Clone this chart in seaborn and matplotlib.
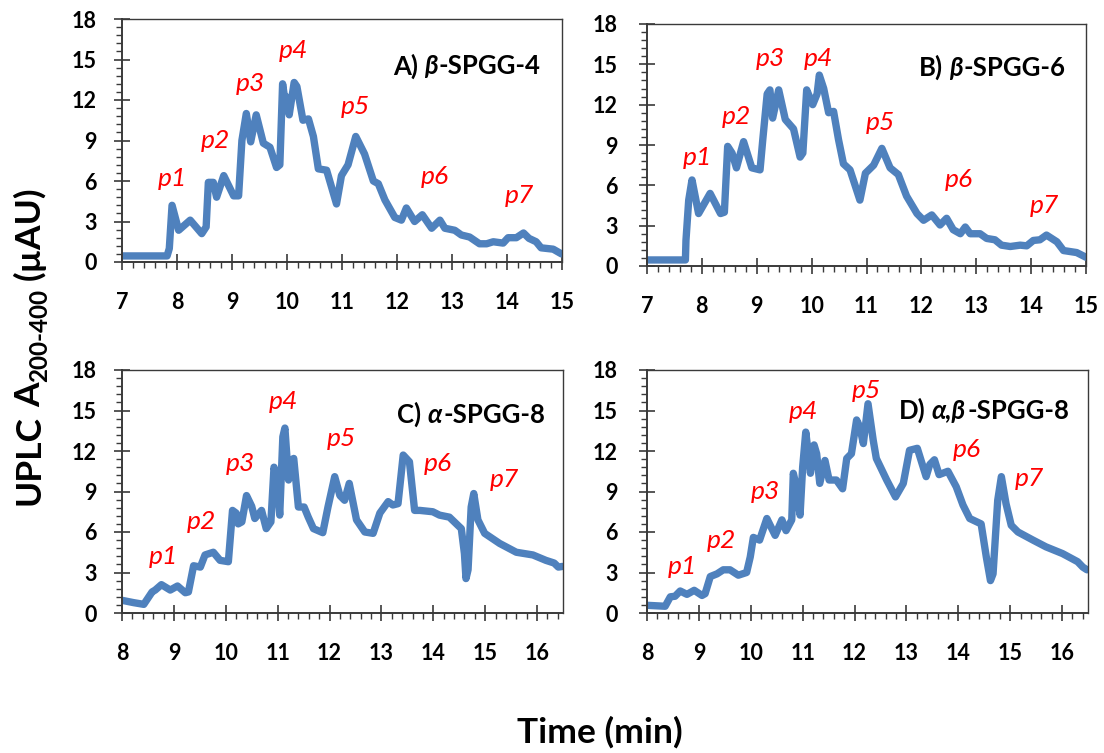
import numpy as np
import pandas as pd
import matplotlib
matplotlib.use("Agg")
import matplotlib.pyplot as plt
from matplotlib.ticker import MultipleLocator
import seaborn as sns

# ---------------- data ----------------
time_A = [7.0, 7.82, 7.86, 7.91, 8.03, 8.24, 8.45, 8.53, 8.57, 8.66, 8.72, 8.85,
          9.03, 9.12, 9.18, 9.26, 9.34, 9.44, 9.57, 9.69, 9.81, 9.87, 9.92, 9.98,
          10.01, 10.04, 10.13, 10.18, 10.29, 10.39, 10.48, 10.57, 10.72, 10.90,
          10.99, 11.11, 11.25, 11.41, 11.57, 11.66, 11.78, 11.96, 12.08, 12.17,
          12.32, 12.46, 12.63, 12.78, 12.87, 13.05, 13.17, 13.32, 13.50, 13.63,
          13.75, 13.93, 14.02, 14.17, 14.30, 14.40, 14.53, 14.62, 14.84, 14.99]
abs_A = [0.45, 0.45, 1.0, 4.2, 2.35, 3.1, 2.1, 2.6, 5.9, 5.9, 4.8, 6.4,
         4.9, 4.9, 9.0, 11.0, 8.9, 10.9, 8.8, 8.5, 7.0, 7.2, 13.2, 11.5,
         12.2, 10.9, 13.3, 13.0, 10.5, 10.6, 9.3, 6.9, 6.8, 4.3,
         6.4, 7.2, 9.3, 8.0, 6.0, 5.8, 4.6, 3.3, 3.1, 4.0,
         3.0, 3.5, 2.5, 3.1, 2.5, 2.35, 2.0, 1.85, 1.35, 1.35,
         1.5, 1.4, 1.8, 1.8, 2.15, 1.75, 1.5, 1.05, 0.95, 0.6]

time_B = [7.0, 7.70, 7.71, 7.76, 7.82, 7.94, 8.15, 8.34, 8.41, 8.47, 8.55, 8.63,
          8.76, 8.91, 9.06, 9.11, 9.19, 9.24, 9.29, 9.40, 9.52, 9.67, 9.79, 9.84,
          9.91, 10.02, 10.10, 10.14, 10.22, 10.31, 10.40, 10.49, 10.58, 10.70,
          10.88, 10.98, 11.13, 11.28, 11.43, 11.58, 11.73, 11.92, 12.04, 12.19,
          12.34, 12.46, 12.58, 12.71, 12.80, 12.89, 13.07, 13.19, 13.34, 13.46,
          13.62, 13.80, 13.92, 14.04, 14.16, 14.28, 14.47, 14.59, 14.83, 15.0]
abs_B = [0.45, 0.45, 1.9, 4.9, 6.4, 3.9, 5.4, 3.9, 4.0, 8.9, 8.4, 7.3,
         9.25, 7.3, 7.15, 9.4, 12.8, 13.1, 11.0, 13.1, 10.9, 10.2, 8.1, 8.4,
         13.1, 12.0, 12.8, 14.2, 13.2, 11.4, 11.5, 9.4, 7.6, 7.15,
         4.9, 6.9, 7.5, 8.75, 7.3, 6.8, 5.2, 3.9, 3.4, 3.8,
         3.05, 3.55, 2.7, 2.4, 2.9, 2.4, 2.4, 2.05, 1.95, 1.55,
         1.45, 1.55, 1.5, 1.9, 1.95, 2.3, 1.8, 1.15, 1.0, 0.65]

time_C = [8.0, 8.22, 8.42, 8.58, 8.64, 8.76, 8.93, 9.07, 9.22, 9.28, 9.38, 9.51,
          9.60, 9.76, 9.89, 10.05, 10.13, 10.20, 10.24, 10.31, 10.40, 10.50, 10.56,
          10.69, 10.78, 10.87, 10.93, 10.99, 11.04, 11.10, 11.14, 11.21, 11.25,
          11.31, 11.40, 11.51, 11.59, 11.69, 11.87, 11.97, 12.10, 12.20, 12.29,
          12.38, 12.52, 12.68, 12.84, 12.97, 13.13, 13.22, 13.32, 13.42, 13.54,
          13.64, 13.74, 13.99, 14.12, 14.31, 14.54, 14.60, 14.63, 14.67, 14.73,
          14.78, 14.86, 14.99, 15.28, 15.60, 15.92, 16.17, 16.33, 16.41, 16.49]
abs_C = [0.94, 0.77, 0.64, 1.56, 1.7, 2.1, 1.7, 2.0, 1.5, 1.56, 3.5, 3.4,
         4.3, 4.5, 3.9, 3.8, 7.6, 7.4, 6.6, 6.75, 8.7, 7.9, 7.0,
         7.6, 6.25, 6.75, 10.8, 9.85, 7.25, 13.05, 13.7, 9.85, 11.3,
         11.45, 7.85, 7.85, 7.1, 6.25, 5.95, 7.85, 10.1, 8.7, 8.35,
         9.6, 6.9, 6.0, 5.9, 7.4, 8.25, 8.0, 8.1, 11.7, 11.2,
         7.6, 7.6, 7.5, 7.25, 7.1, 6.25, 4.4, 2.55, 3.2, 7.85,
         8.85, 6.9, 5.9, 5.15, 4.5, 4.3, 3.9, 3.7, 3.4, 3.45]

time_D = [8.0, 8.35, 8.45, 8.54, 8.64, 8.77, 8.91, 9.06, 9.12, 9.22, 9.35, 9.47,
          9.60, 9.76, 9.92, 9.99, 10.05, 10.17, 10.31, 10.47, 10.60, 10.68, 10.79,
          10.82, 10.88, 10.95, 11.00, 11.06, 11.11, 11.15, 11.22, 11.27, 11.33,
          11.43, 11.51, 11.65, 11.77, 11.85, 11.94, 12.04, 12.10, 12.17, 12.26,
          12.36, 12.42, 12.62, 12.79, 12.94, 13.06, 13.21, 13.38, 13.45, 13.54,
          13.63, 13.80, 13.96, 14.09, 14.22, 14.44, 14.54, 14.62, 14.67, 14.76,
          14.83, 14.92, 15.02, 15.15, 15.44, 15.69, 16.01, 16.30, 16.40, 16.48]
abs_D = [0.57, 0.5, 1.2, 1.24, 1.63, 1.38, 1.68, 1.3, 1.43, 2.7, 2.9, 3.2,
         3.2, 2.8, 3.0, 4.15, 5.6, 5.4, 7.0, 5.75, 6.9, 6.1, 6.9,
         10.35, 9.35, 7.25, 10.8, 13.4, 11.8, 10.35, 12.45, 11.8, 9.6,
         11.3, 9.85, 9.85, 9.2, 11.45, 11.8, 14.3, 13.8, 12.55, 15.5,
         12.8, 11.45, 9.85, 8.6, 9.6, 12.05, 12.2, 10.1, 11.0, 11.35,
         10.25, 10.5, 9.35, 8.0, 7.0, 6.6, 4.15, 2.4, 2.9, 8.35,
         10.1, 8.1, 6.5, 6.0, 5.4, 4.9, 4.4, 3.8, 3.4, 3.2]

peak_names = ["p1", "p2", "p3", "p4", "p5", "p6", "p7"]
panel_parts = [("A)", "\u03b2", "-SPGG-4"),
               ("B)", "\u03b2", "-SPGG-6"),
               ("C)", "\u03b1", "-SPGG-8"),
               ("D)", "\u03b1,\u03b2", "-SPGG-8")]
y_ticks = [0, 3, 6, 9, 12, 15, 18]
x_ticks_top = [7, 8, 9, 10, 11, 12, 13, 14, 15]
x_ticks_bottom = [8, 9, 10, 11, 12, 13, 14, 15, 16]

# ---------------- layout (positions only) ----------------
peak_pos = [
    [(7.91, 6.2), (8.69, 9.0), (9.33, 13.2), (10.12, 15.7), (11.24, 11.5), (12.69, 6.3), (14.23, 4.9)],
    [(7.91, 8.1), (8.63, 11.1), (9.25, 15.4), (10.13, 15.4), (11.25, 10.7), (12.68, 6.4), (14.25, 4.5)],
    [(8.79, 4.2), (9.54, 6.75), (10.28, 11.1), (11.11, 15.7), (12.23, 12.9), (14.09, 11.1), (15.37, 9.9)],
    [(8.69, 3.46), (9.44, 5.4), (10.28, 9.0), (11.01, 14.9), (12.22, 16.5), (14.17, 12.1), (15.37, 9.95)],
]
title_pos = [(11.93, 13.9), (11.95, 14.13), (13.31, 14.1), (12.86, 14.4)]

W, H = 1104, 753
sns.set_style("ticks")
plt.rcParams["font.family"] = ["Lato", "DejaVu Sans"]

fig = plt.figure(figsize=(W / 100, H / 100), dpi=100)
# axes rectangles in pixels (left, top, right, bottom)
rects_px = [(122, 19, 562, 262), (647, 24, 1086, 266),
            (122, 370, 563, 613), (647, 370, 1088, 613)]
series = [(time_A, abs_A), (time_B, abs_B), (time_C, abs_C), (time_D, abs_D)]
xlims = [(7, 15), (7, 15), (8, 16.5), (8, 16.5)]
xticks = [x_ticks_top, x_ticks_top, x_ticks_bottom, x_ticks_bottom]
ypads = [12, 15, 12, 15]

line_color = "#4F81BD"
spine_color = "#3a3a3a"
axes = []
for i, (l, t, r, b) in enumerate(rects_px):
    ax = fig.add_axes([l / W, (H - b) / H, (r - l) / W, (b - t) / H])
    axes.append(ax)
    tx, vy = series[i]
    df = pd.DataFrame({"time": tx, "abs": vy})
    sns.lineplot(data=df, x="time", y="abs", ax=ax, sort=False, estimator=None,
                 color=line_color, linewidth=5.3, solid_capstyle="round",
                 solid_joinstyle="round")
    ax.set_xlim(*xlims[i])
    ax.set_ylim(0, 18)
    ax.set_xticks(xticks[i])
    ax.set_yticks(y_ticks)
    ax.xaxis.set_minor_locator(MultipleLocator(0.2))
    ax.yaxis.set_minor_locator(MultipleLocator(0.6))
    ax.set_xlabel("")
    ax.set_ylabel("")
    ax.tick_params(axis="x", which="major", direction="inout", length=11, width=1.2,
                   pad=16, labelsize=15.5, colors=spine_color, labelcolor="black")
    ax.tick_params(axis="x", which="minor", direction="out", length=4.5, width=1.0,
                   colors=spine_color)
    ax.tick_params(axis="y", which="major", direction="inout", length=12, width=1.2,
                   pad=ypads[i], labelsize=15.5, colors=spine_color, labelcolor="black")
    ax.tick_params(axis="y", which="minor", direction="out", length=4.5, width=1.0,
                   colors=spine_color)
    for lab in ax.get_xticklabels() + ax.get_yticklabels():
        lab.set_fontweight("bold")
    for s in ["left", "bottom"]:
        ax.spines[s].set_color(spine_color)
        ax.spines[s].set_linewidth(1.4)
    for s in ["top", "right"]:
        ax.spines[s].set_color(spine_color)
        ax.spines[s].set_linewidth(1.0)
    ax.set_facecolor("white")
    for name, (px, py) in zip(peak_names, peak_pos[i]):
        ax.text(px, py, name, color="red", fontsize=19, fontstyle="italic",
                ha="center", va="center")

renderer = fig.canvas.get_renderer()


def place_pieces(x_px, y_px, pieces, rotation=0):
    """Lay text pieces one after another, starting at a baseline point (pixels from bottom-left)."""
    pos = x_px if rotation == 0 else y_px
    for txt, kw, shift, gap in pieces:
        if rotation == 0:
            tobj = fig.text(pos / W, (y_px - shift) / H, txt, ha="left", va="baseline", **kw)
            ext = tobj.get_window_extent(renderer)
            pos += ext.width + gap
        else:
            tobj = fig.text((x_px + shift) / W, pos / H, txt, rotation=90,
                            rotation_mode="anchor", ha="left", va="baseline", **kw)
            ext = tobj.get_window_extent(renderer)
            pos += ext.height + gap


# panel titles
for i, ax in enumerate(axes):
    pre, greek, post = panel_parts[i]
    x0, y0 = ax.transData.transform(title_pos[i])
    bold = dict(fontsize=18.5, fontweight="bold", color="black")
    boldit = dict(fontsize=18.5, fontweight="bold", fontstyle="italic", color="black")
    place_pieces(x0, y0, [(pre, bold, 0, 6), (greek, boldit, 0, 1), (post, bold, 0, 0)])

# y label with subscript
big = dict(fontsize=25.5, fontweight="bold", color="black")
sub = dict(fontsize=17.5, fontweight="bold", color="black")
place_pieces(40, H - 505, [("UPLC", big, 0, 8), ("A", big, 0, 1),
                           ("200-400", sub, 7, 8), ("(\u00b5AU)", big, 0, 0)], rotation=90)

# x label
fig.text(600 / W, (H - 743) / H, "Time (min)", ha="center", va="baseline",
         fontsize=25.5, fontweight="bold", color="black")

fig.savefig("out.png", dpi=100, facecolor="white")
